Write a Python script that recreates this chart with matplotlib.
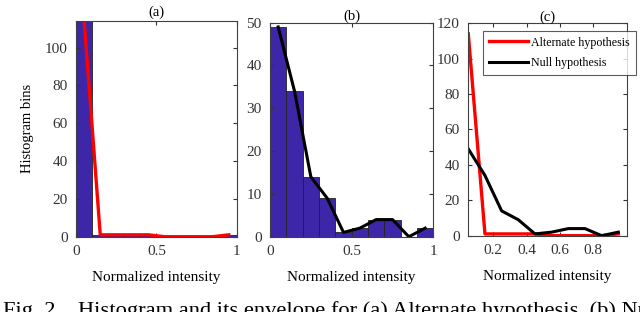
import numpy as np
import matplotlib.pyplot as plt

plt.rcParams['font.family'] = ['Liberation Serif', 'DejaVu Serif']

# histogram bins (bin centres) and counts
centers = [0.05, 0.15, 0.25, 0.35, 0.45, 0.55, 0.65, 0.75, 0.85, 0.95]
alt_counts = [114, 1, 1, 1, 1, 0, 0, 0, 0, 1]
null_counts = [49, 34, 14, 9, 1, 2, 4, 4, 0, 2]

bar_color = '#3E26A8'
axis_color = '#404040'

fig = plt.figure(figsize=(6.4, 3.12), dpi=100)
ax_a = fig.add_axes([0.119, 0.2413, 0.251, 0.691])
ax_b = fig.add_axes([0.4219, 0.2413, 0.2552, 0.686])
ax_c = fig.add_axes([0.7317, 0.2446, 0.2475, 0.681])


def style(ax):
    for s in ax.spines.values():
        s.set_color(axis_color)
        s.set_linewidth(0.8)
    ax.tick_params(direction='in', top=True, right=True, length=3,
                   labelsize=11, colors='#333333', pad=6)
    ax.set_xlabel('Normalized intensity', fontsize=11, labelpad=9)


# (a) alternate hypothesis
ax_a.bar(centers, alt_counts, width=0.1, color=bar_color, edgecolor='#222222', linewidth=0.6)
ax_a.plot(centers, alt_counts, color='red', lw=2.4)
ax_a.set_xlim(0, 1)
ax_a.set_ylim(0, 114)
ax_a.set_xticks([0, 0.5, 1])
ax_a.set_xticklabels(['0', '0.5', '1'])
ax_a.set_yticks([0, 20, 40, 60, 80, 100])
ax_a.set_ylabel('Histogram bins', fontsize=10.5, labelpad=8)
ax_a.set_title('(a)', fontsize=10.5, pad=4)
style(ax_a)

# (b) null hypothesis
ax_b.bar(centers, null_counts, width=0.1, color=bar_color, edgecolor='#222222', linewidth=0.6)
ax_b.plot(centers, null_counts, color='black', lw=2.2)
ax_b.set_xlim(0, 1)
ax_b.set_ylim(0, 50)
ax_b.set_xticks([0, 0.5, 1])
ax_b.set_xticklabels(['0', '0.5', '1'])
ax_b.set_yticks([0, 10, 20, 30, 40, 50])
ax_b.set_title('(b)', fontsize=10.5, pad=2)
style(ax_b)

# (c) both envelopes
ax_c.plot(centers, alt_counts, color='red', lw=2.4, label='Alternate hypothesis')
ax_c.plot(centers, null_counts, color='black', lw=2.2, label='Null hypothesis')
ax_c.set_xlim(0.05, 1.0)
ax_c.set_ylim(0, 120)
ax_c.set_xticks([0.2, 0.4, 0.6, 0.8])
ax_c.set_yticks([0, 20, 40, 60, 80, 100, 120])
ax_c.set_title('(c)', fontsize=10.5, pad=2)
style(ax_c)
leg = ax_c.legend(loc='upper left', bbox_to_anchor=(0.09, 0.965), fontsize=8.6,
                  frameon=True, fancybox=False, edgecolor='#333333',
                  handlelength=3.3, handletextpad=0.25, borderaxespad=0,
                  borderpad=0.5, labelspacing=0.7)
leg.get_frame().set_linewidth(0.8)

fig.text(0.004, 1 - 301 / 312, 'Fig. 2.   Histogram and its envelope for (a) Alternate hypothesis, (b) Null',
         fontsize=16.2, va='top', ha='left')

fig.savefig('out.png', dpi=100)
